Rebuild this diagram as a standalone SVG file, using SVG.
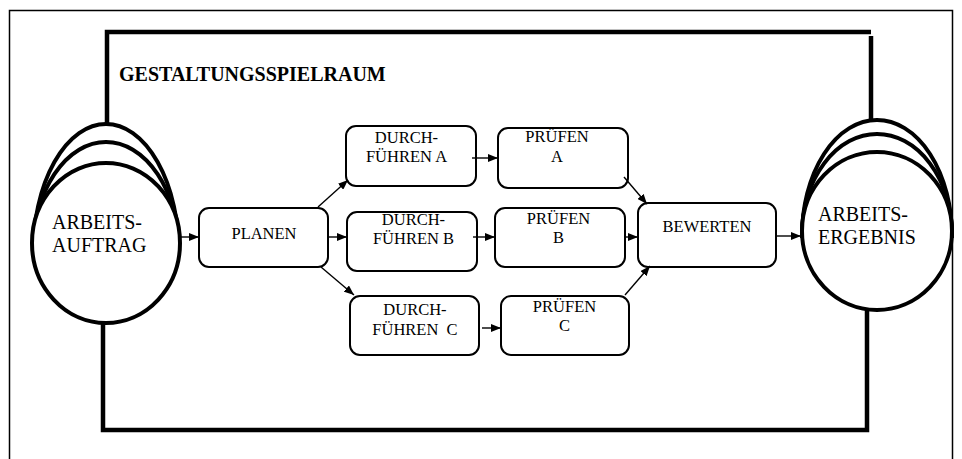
<svg xmlns="http://www.w3.org/2000/svg" width="962" height="459" viewBox="0 0 962 459" font-family="Liberation Serif, Tinos, Times New Roman, serif">
  <style>
    .frame { fill: none; stroke: #000; stroke-width: 1.5; }
    .bound { fill: none; stroke: #000; stroke-width: 4.5; stroke-linecap: butt; }
    .stack { fill: #fff; stroke: #000; stroke-width: 4; }
    .box { fill: #fff; stroke: #000; stroke-width: 2; }
    .conn { fill: none; stroke: #000; stroke-width: 1.4; }
    .lbl { font-size: 16.5px; text-anchor: middle; fill: #000; }
    .big { font-size: 20px; fill: #000; }
    .title { font-size: 20px; font-weight: bold; fill: #000; }
  </style>
  <defs>
    <marker id="arrow" markerUnits="userSpaceOnUse" markerWidth="10" markerHeight="8" refX="10" refY="4" orient="auto">
      <path d="M0,0 L10,4 L0,8 z" fill="#000"/>
    </marker>
  </defs>

  <rect width="962" height="459" fill="#fff"/>

  <!-- outer frame (open at the bottom) -->
  <path class="frame" d="M9.5,459 V10.5 H952.5 V459"/>

  <!-- boundary of the design scope -->
  <g id="scope">
    <path class="bound" d="M107,124 V32 H871"/>
    <path class="bound" d="M871,36 V123"/>
    <path class="bound" d="M103,321 V430 H867 V309"/>
    <text class="title" x="119" y="81">GESTALTUNGSSPIELRAUM</text>
  </g>

  <!-- input: stacked orders (rear sheets are arches hidden by the front one) -->
  <g id="arbeitsauftrag">
    <path class="stack" d="M33,254 A73,130 0 0 1 179,254 Z"/>
    <path class="stack" d="M33,252 A73,110 0 0 1 179,252 Z"/>
    <ellipse class="stack" cx="106" cy="243" rx="74" ry="80"/>
    <text class="big" x="52" y="229">ARBEITS-</text>
    <text class="big" x="52" y="252">AUFTRAG</text>
  </g>

  <!-- output: stacked results -->
  <g id="arbeitsergebnis">
    <path class="stack" d="M802,236 A75,116 0 0 1 952,236 Z"/>
    <path class="stack" d="M802,235 A75,101 0 0 1 952,235 Z"/>
    <ellipse class="stack" cx="877" cy="231" rx="75" ry="79"/>
    <text class="big" x="818" y="221">ARBEITS-</text>
    <text class="big" x="818" y="244">ERGEBNIS</text>
  </g>

  <g id="planen">
    <rect class="box" x="199" y="208" width="129" height="59" rx="10"/>
    <text class="lbl" x="264" y="239">PLANEN</text>
  </g>

  <g id="durchfuehren-a">
    <rect class="box" x="346" y="126" width="130" height="60" rx="10"/>
    <text class="lbl" x="406.5" y="143">DURCH-</text>
    <text class="lbl" x="406.5" y="162">FÜHREN A</text>
  </g>

  <g id="pruefen-a">
    <rect class="box" x="498" y="128" width="130" height="60" rx="10"/>
    <text class="lbl" x="557" y="142">PRÜFEN</text>
    <text class="lbl" x="557" y="162">A</text>
  </g>

  <g id="durchfuehren-b">
    <rect class="box" x="347" y="212" width="130" height="59" rx="10"/>
    <text class="lbl" x="413.5" y="225">DURCH-</text>
    <text class="lbl" x="413.5" y="244">FÜHREN B</text>
  </g>

  <g id="pruefen-b">
    <rect class="box" x="495" y="208" width="130" height="59" rx="10"/>
    <text class="lbl" x="558.5" y="224">PRÜFEN</text>
    <text class="lbl" x="558.5" y="243">B</text>
  </g>

  <g id="durchfuehren-c">
    <rect class="box" x="350" y="296" width="129" height="59" rx="10"/>
    <text class="lbl" x="415" y="315">DURCH-</text>
    <text class="lbl" x="415" y="335" xml:space="preserve">FÜHREN  C</text>
  </g>

  <g id="pruefen-c">
    <rect class="box" x="501" y="296" width="128" height="59" rx="10"/>
    <text class="lbl" x="564.5" y="312">PRÜFEN</text>
    <text class="lbl" x="564.5" y="331">C</text>
  </g>

  <g id="bewerten">
    <rect class="box" x="638" y="203" width="138" height="64" rx="10"/>
    <text class="lbl" x="707" y="232">BEWERTEN</text>
  </g>

  <!-- connectors -->
  <g id="connectors" class="conn" marker-end="url(#arrow)">
    <line x1="178" y1="237" x2="199" y2="237"/>
    <line x1="318" y1="207" x2="348" y2="180"/>
    <line x1="328" y1="237" x2="347" y2="237"/>
    <line x1="321" y1="267" x2="354" y2="295"/>
    <line x1="472" y1="158" x2="498" y2="158"/>
    <line x1="473" y1="237" x2="495" y2="237"/>
    <line x1="482" y1="328" x2="501" y2="328"/>
    <line x1="624" y1="177" x2="647" y2="204"/>
    <line x1="625" y1="237" x2="638" y2="237"/>
    <line x1="625" y1="295" x2="650" y2="266"/>
    <line x1="777" y1="236" x2="801" y2="236"/>
  </g>
</svg>
